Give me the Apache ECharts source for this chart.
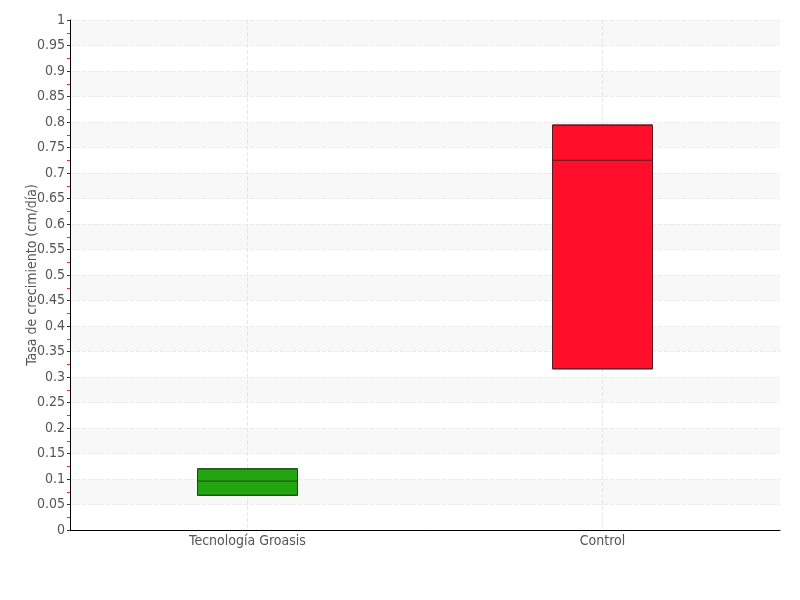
<!DOCTYPE html>
<html>
<head>
<meta charset="utf-8">
<script src="https://cdn.jsdelivr.net/npm/echarts@6/dist/echarts.min.js"></script>
<style>
  html, body { margin: 0; padding: 0; background: #fff; }
  #chart { width: 800px; height: 600px; }
</style>
</head>
<body>
<div id="chart"></div>
<script>
// categories and box values [min, Q1, median, Q3, max]
var categories = ['Tecnología Groasis', 'Control'];
var groasisBox = [0.068, 0.068, 0.096, 0.12, 0.12];
var controlBox = [0.316, 0.316, 0.725, 0.794, 0.794];
var fillColors = ['#22a511', '#ff0f2a'];
var borderColors = ['#1c4a14', '#5a1a22'];

var font = '"DejaVu Sans Condensed", "DejaVu Sans", sans-serif';

var chart = echarts.init(document.getElementById('chart'));
chart.setOption({
  animation: false,
  grid: { left: 70, right: 20, top: 20, bottom: 70 },
  xAxis: {
    type: 'category',
    data: categories,
    axisLine: { lineStyle: { color: '#000', width: 1 } },
    axisTick: { alignWithLabel: true, length: 4, lineStyle: { color: '#444' } },
    axisLabel: { color: '#555', fontFamily: font, fontSize: 14, margin: 4 },
    splitLine: { show: true, alignWithLabel: true, lineStyle: { color: '#e6e6e6', type: 'dashed' } }
  },
  yAxis: {
    type: 'value',
    min: 0,
    max: 1,
    interval: 0.05,
    name: 'Tasa de crecimiento (cm/día)',
    nameLocation: 'middle',
    nameGap: 31,
    nameMoveOverlap: false,
    nameTextStyle: { color: '#555', fontFamily: font, fontSize: 14 },
    axisLine: { show: true, lineStyle: { color: '#000', width: 1 } },
    axisTick: { show: true, length: 3, lineStyle: { color: '#333' } },
    minorTick: { show: true, splitNumber: 2, length: 3, lineStyle: { color: '#ff2222', width: 1 } },
    axisLabel: { color: '#555', fontFamily: font, fontSize: 14, margin: 5 },
    splitLine: { show: true, lineStyle: { color: '#ebebeb', type: 'dashed' } },
    splitArea: { show: true, areaStyle: { color: ['rgba(255,255,255,0)', '#f8f8f8'] } }
  },
  series: [{
    type: 'boxplot',
    boxWidth: [99, 100],
    data: [
      { value: groasisBox, itemStyle: { color: fillColors[0], borderColor: borderColors[0], borderWidth: 1 } },
      { value: controlBox, itemStyle: { color: fillColors[1], borderColor: borderColors[1], borderWidth: 1 } }
    ]
  }]
});
</script>
</body>
</html>
